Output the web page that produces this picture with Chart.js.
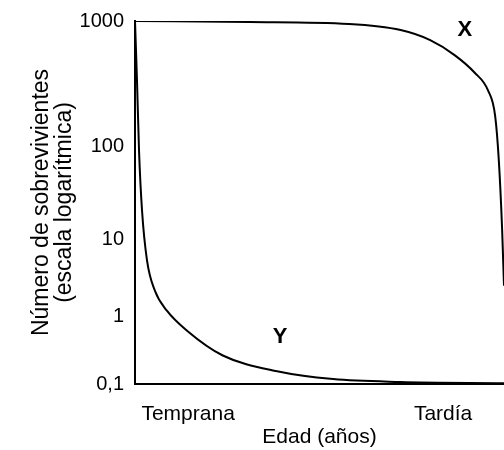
<!DOCTYPE html>
<html lang="es">
<head>
<meta charset="UTF-8">
<title>Curvas de supervivencia</title>
<script src="https://cdn.jsdelivr.net/npm/chart.js"></script>
<style>
  html, body { margin: 0; padding: 0; background: #fff; }
  #wrap { width: 504px; height: 450px; }
</style>
</head>
<body>
<div id="wrap"><canvas id="chart"></canvas></div>
<script>
// edad relativa: 0 = temprana, 100 = tardía
const edadX = [0, 31, 58, 72, 80, 86.7, 92, 95.7, 97.6, 98.6, 99.5, 100];
const supX  = [1000, 980, 946, 846, 703, 532, 388, 278, 175, 70, 12.7, 2.5];
const edadY = [0, 0.54, 1.1, 1.9, 3.25, 5.4, 8.7, 14.1, 23.8, 38.5, 53.7, 71.8, 100];
const supY  = [1000, 334, 88, 20.7, 5.4, 2.15, 1.17, 0.61, 0.263, 0.154, 0.118, 0.107, 0.103];

const yTicks = [0.1, 1, 10, 100, 1000];
const yTickLabels = ['0,1', '1', '10', '100', '1000'];
const xTicks = [14.4, 83.5];
const xTickLabels = ['Temprana', 'Tardía'];
const curveLabels = ['X', 'Y'];
const curveLabelAt = [[89.4, 850], [39.3, 0.5]];

// the drawing's log axis is not evenly spaced: where each decade sits (0 = bottom, 1 = top)
const decadePos = [0, 0.187, 0.397, 0.655, 1];

class EscalaLog extends Chart.LogarithmicScale {
  static id = 'escalaLog';
  getPixelForValue(value) {
    if (value === undefined || value === null) value = this.min;
    const l = Math.log10(value) + 1;
    const i = Math.max(0, Math.min(3, Math.floor(l)));
    const d = decadePos[i] + (l - i) * (decadePos[i + 1] - decadePos[i]);
    return this.getPixelForDecimal(d);
  }
  getValueForPixel(pixel) {
    const d = this.getDecimalForPixel(pixel);
    let i = 0;
    while (i < 3 && d > decadePos[i + 1]) i++;
    const l = i + (d - decadePos[i]) / (decadePos[i + 1] - decadePos[i]);
    return Math.pow(10, l - 1);
  }
}
Chart.register(EscalaLog);

const toPoints = (xs, ys) => xs.map((x, i) => ({ x: x, y: ys[i] }));

const etiquetas = {
  id: 'etiquetas',
  afterDatasetsDraw(chart) {
    const { ctx, scales: { x, y } } = chart;
    ctx.save();
    ctx.font = 'bold 22px "Liberation Sans", Arial, sans-serif';
    ctx.fillStyle = '#000';
    ctx.textAlign = 'center';
    ctx.textBaseline = 'middle';
    curveLabels.forEach((t, i) => {
      ctx.fillText(t, x.getPixelForValue(curveLabelAt[i][0]), y.getPixelForValue(curveLabelAt[i][1]));
    });
    ctx.restore();
  }
};

Chart.defaults.font.family = '"Liberation Sans", Arial, sans-serif';
Chart.defaults.font.size = 20;
Chart.defaults.color = '#000';

new Chart(document.getElementById('chart'), {
  type: 'line',
  data: {
    datasets: [
      { label: 'X', data: toPoints(edadX, supX) },
      { label: 'Y', data: toPoints(edadY, supY) }
    ]
  },
  options: {
    responsive: true,
    maintainAspectRatio: false,
    animation: false,
    layout: { padding: { top: 21, right: 0, left: 0, bottom: 0 } },
    elements: {
      line: { borderColor: '#000', borderWidth: 2, cubicInterpolationMode: 'monotone', fill: false },
      point: { radius: 0 }
    },
    plugins: { legend: { display: false }, tooltip: { enabled: false } },
    scales: {
      x: {
        type: 'linear', min: 0, max: 100,
        grid: { display: false },
        border: { display: true, color: '#000', width: 2 },
        afterBuildTicks: s => { s.ticks = xTicks.map(v => ({ value: v })); },
        afterFit: s => { s.height = 66; },
        ticks: { callback: (v, i) => xTickLabels[i], autoSkip: false, maxRotation: 0, padding: 10, font: { size: 21 } },
        title: { display: true, text: 'Edad (años)', font: { size: 21, lineHeight: 1.2 }, padding: { top: 0, bottom: 0 } }
      },
      y: {
        type: 'escalaLog', min: 0.1, max: 1000,
        grid: { display: false },
        border: { display: true, color: '#000', width: 2 },
        afterBuildTicks: s => { s.ticks = yTicks.map(v => ({ value: v })); },
        afterFit: s => { s.width = 135; },
        ticks: { callback: (v, i) => yTickLabels[i], autoSkip: false, padding: 3 },
        title: {
          display: true,
          text: ['Número de sobrevivientes', '(escala logarítmica)'],
          font: { size: 23, lineHeight: 1.0 },
          padding: { top: 30, bottom: 0 }
        }
      }
    }
  },
  plugins: [etiquetas]
});
</script>
</body>
</html>
